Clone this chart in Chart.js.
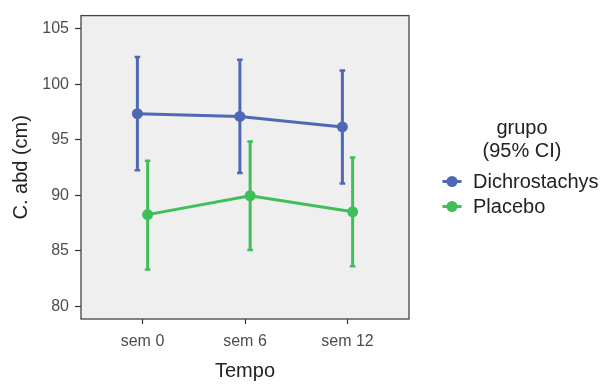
<!DOCTYPE html>
<html><head><meta charset="utf-8">
<script src="https://cdn.jsdelivr.net/npm/chart.js@4"></script>
<style>html,body{margin:0;padding:0;background:#fff;}</style>
</head><body>
<canvas id="c" width="606" height="385"></canvas>
<script>
const categories = ['sem 0', 'sem 6', 'sem 12'];
const groups = ['Dichrostachys', 'Placebo'];
const dichMean = [97.35, 97.1, 96.15];
const dichLow = [92.25, 92.0, 91.05];
const dichHigh = [102.45, 102.2, 101.25];
const placMean = [88.25, 89.95, 88.5];
const placLow = [83.3, 85.05, 83.6];
const placHigh = [93.1, 94.85, 93.4];
const yTicks = [80, 85, 90, 95, 100, 105];
const legendTitle = ['grupo', '(95% CI)'];
const colors = ['#4F68B6', '#3FBE59'];

const FONT = "'Liberation Sans', Arial, sans-serif";
const dodge = [-0.05, 0.05];
const means = [dichMean, placMean];
const lows = [dichLow, placLow];
const highs = [dichHigh, placHigh];

const datasets = groups.map((g, gi) => ({
  label: g,
  data: means[gi].map((v, i) => ({x: i + dodge[gi], y: v})),
  lows: lows[gi], highs: highs[gi],
  borderColor: colors[gi], backgroundColor: colors[gi],
  borderWidth: 3, pointRadius: 5.5, pointHoverRadius: 5.5,
  pointBorderWidth: 0, tension: 0, fill: false
}));

const panelPlugin = {
  id: 'panel',
  beforeDraw(chart) {
    const {ctx, chartArea: a} = chart;
    ctx.save();
    ctx.fillStyle = '#EFEFEF';
    ctx.fillRect(a.left, a.top, a.right - a.left, a.bottom - a.top);
    ctx.restore();
  },
  afterDraw(chart) {
    const {ctx, chartArea: a} = chart;
    ctx.save();
    ctx.strokeStyle = '#444';
    ctx.lineWidth = 1.3;
    ctx.strokeRect(a.left, a.top, a.right - a.left, a.bottom - a.top);
    ctx.restore();
  }
};

const errorBarPlugin = {
  id: 'errbars',
  beforeDatasetsDraw(chart) {
    const {ctx, scales: {x, y}} = chart;
    ctx.save();
    chart.data.datasets.forEach(ds => {
      ctx.strokeStyle = ds.borderColor;
      ds.data.forEach((p, i) => {
        const px = x.getPixelForValue(p.x);
        const yl = y.getPixelForValue(ds.lows[i]);
        const yh = y.getPixelForValue(ds.highs[i]);
        ctx.lineWidth = 3;
        ctx.beginPath(); ctx.moveTo(px, yl); ctx.lineTo(px, yh); ctx.stroke();
        ctx.lineWidth = 2.5;
        ctx.beginPath();
        ctx.moveTo(px - 2.8, yl); ctx.lineTo(px + 2.8, yl);
        ctx.moveTo(px - 2.8, yh); ctx.lineTo(px + 2.8, yh);
        ctx.stroke();
      });
    });
    ctx.restore();
  }
};

const legendPlugin = {
  id: 'customLegend',
  afterDraw(chart) {
    const ctx = chart.ctx;
    ctx.save();
    ctx.fillStyle = '#222';
    ctx.font = '20px ' + FONT;
    ctx.textAlign = 'center';
    ctx.textBaseline = 'middle';
    legendTitle.forEach((t, i) => ctx.fillText(t, 522, 128 + i * 23));
    chart.data.datasets.forEach((ds, i) => {
      const cy = 181.5 + i * 25;
      ctx.strokeStyle = ds.borderColor; ctx.fillStyle = ds.borderColor;
      ctx.lineWidth = 3;
      ctx.beginPath(); ctx.moveTo(442.5, cy); ctx.lineTo(461.5, cy); ctx.stroke();
      ctx.beginPath(); ctx.arc(452, cy, 5.5, 0, Math.PI * 2); ctx.fill();
      ctx.fillStyle = '#222';
      ctx.textAlign = 'left';
      ctx.fillText(ds.label, 473, cy + 1);
    });
    ctx.restore();
  }
};

new Chart(document.getElementById('c'), {
  type: 'line',
  data: {datasets},
  plugins: [panelPlugin, errorBarPlugin, legendPlugin],
  options: {
    responsive: false, animation: false, devicePixelRatio: 1,
    layout: {padding: {top: 14, right: 197, left: 0, bottom: 0}},
    plugins: {legend: {display: false}, tooltip: {enabled: false}},
    scales: {
      x: {
        type: 'linear', min: -0.6, max: 2.6,
        afterFit(s) { s.height = 66; },
        afterBuildTicks(s) { s.ticks = categories.map((c, i) => ({value: i})); },
        ticks: {
          callback: v => categories[v],
          font: {family: FONT, size: 16}, color: '#4D4D4D', padding: 8, maxRotation: 0
        },
        grid: {drawOnChartArea: false, drawTicks: true, tickLength: 5, color: '#333', tickWidth: 1.2},
        border: {display: false},
        title: {display: true, text: 'Tempo', font: {family: FONT, size: 20}, color: '#222', padding: {bottom: 2, top: 0}}
      },
      y: {
        type: 'linear', min: 78.84, max: 106.19,
        afterFit(s) { s.width = 81; },
        afterBuildTicks(s) { s.ticks = yTicks.map(v => ({value: v})); },
        ticks: {font: {family: FONT, size: 16}, color: '#4D4D4D', padding: 6},
        grid: {drawOnChartArea: false, drawTicks: true, tickLength: 6, color: '#333', tickWidth: 1.2},
        border: {display: false},
        title: {display: true, text: 'C. abd (cm)', font: {family: FONT, size: 20}, color: '#222', padding: {top: 9, bottom: 0}}
      }
    }
  }
});
</script>
</body></html>
